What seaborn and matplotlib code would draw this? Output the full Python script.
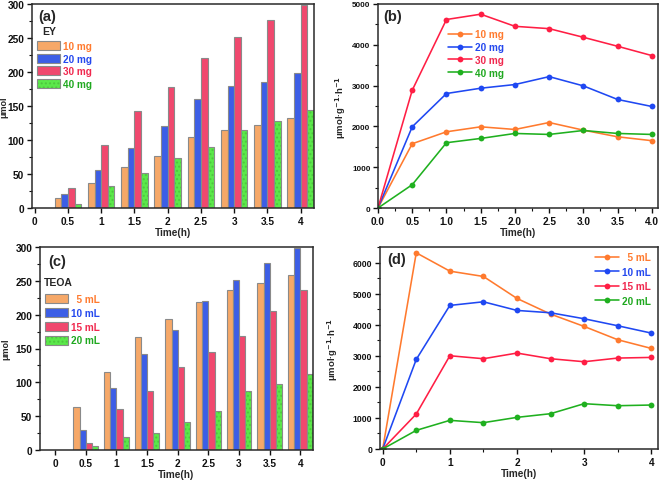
import numpy as np
import pandas as pd
import matplotlib
matplotlib.use("Agg")
import matplotlib.pyplot as plt
import seaborn as sns
from matplotlib.ticker import AutoMinorLocator, MultipleLocator

sns.set_theme(style="ticks")
plt.rcParams['font.family'] = ['Liberation Sans', 'DejaVu Sans']
plt.rcParams['font.weight'] = 'bold'
plt.rcParams['axes.labelweight'] = 'bold'
plt.rcParams['mathtext.default'] = 'bf'

# ---------------- data ----------------
time_cats = ["0", "0.5", "1", "1.5", "2", "2.5", "3", "3.5", "4"]
time_num = [0.0, 0.5, 1.0, 1.5, 2.0, 2.5, 3.0, 3.5, 4.0]

ey_labels = ["10 mg", "20 mg", "30 mg", "40 mg"]
ey_10 = [np.nan, 15, 37, 60, 77, 105, 115, 122, 132]
ey_20 = [np.nan, 20, 56, 88, 121, 161, 180, 186, 199]
ey_30 = [np.nan, 29, 92, 142, 178, 220, 251, 277, 299]
ey_40 = [np.nan, 6, 32, 51, 73, 90, 114, 128, 144]

ey_rate_10 = [0, 1575, 1868, 1990, 1925, 2095, 1908, 1745, 1650]
ey_rate_20 = [0, 1990, 2806, 2936, 3026, 3220, 2993, 2660, 2488]
ey_rate_30 = [0, 2887, 4620, 4750, 4453, 4396, 4184, 3964, 3736]
ey_rate_40 = [0, 571, 1600, 1705, 1827, 1803, 1900, 1827, 1803]

teoa_labels = ["  5 mL", "10 mL", "15 mL", "20 mL"]
teoa_5 = [np.nan, 63, 115, 167, 194, 218, 237, 247, 259]
teoa_10 = [np.nan, 29, 92, 142, 178, 220, 251, 277, 299]
teoa_15 = [np.nan, 11, 60, 87, 123, 145, 169, 205, 236]
teoa_20 = [np.nan, 6, 19, 25, 41, 57, 87, 97, 112]

teoa_rate_5 = [0, 6313, 5723, 5552, 4845, 4341, 3944, 3516, 3237]
teoa_rate_10 = [0, 2883, 4620, 4737, 4459, 4384, 4191, 3966, 3730]
teoa_rate_15 = [0, 1125, 3001, 2905, 3087, 2905, 2808, 2926, 2947]
teoa_rate_20 = [0, 600, 922, 847, 1018, 1136, 1458, 1393, 1415]

bar_colors = ["#F6A868", "#3C5EE6", "#F0486E", "#5BE84A"]
line_colors = ["#FF7A2E", "#1F48F2", "#FF1E44", "#1FB01F"]
text_colors = ["#FF7A2E", "#2448EE", "#F0284E", "#1FA81F"]


def long_df(labels, series, x):
    rows = []
    for lab, vals in zip(labels, series):
        for t, v in zip(x, vals):
            if not (isinstance(v, float) and np.isnan(v)):
                rows.append({"Time": t, "Series": lab, "Value": v})
    return pd.DataFrame(rows)


W, H = 661, 485
fig = plt.figure(figsize=(W / 100, H / 100), dpi=100)


def box(l, t, r, b):
    return [l / W, (H - b) / H, (r - l) / W, (b - t) / H]


axA = fig.add_axes(box(32, 5, 314, 209))
axB = fig.add_axes(box(378, 5, 658, 209))
axC = fig.add_axes(box(40, 248, 313, 451))
axD = fig.add_axes(box(380, 248, 658, 450))

LAB_FS = 7.2
LEG_FS = 7.2


def style_axes(ax, xfs=7.3, yfs=7.3):
    for s in ax.spines.values():
        s.set_color("#2a2a2a")
        s.set_linewidth(1.1)
        s.set_visible(True)
    ax.tick_params(axis="both", which="major", direction="out", length=3.5, width=1,
                   colors="#111111", pad=2)
    ax.tick_params(axis="x", which="major", labelsize=xfs)
    ax.tick_params(axis="y", which="major", labelsize=yfs)
    ax.tick_params(axis="both", which="minor", direction="out", length=2, width=0.8, colors="#111111")
    for lab in ax.get_xticklabels() + ax.get_yticklabels():
        lab.set_fontweight("bold")


def bar_panel(ax, labels, series, title, panel, xlim, title_xy, leg_anchor, lspace,
              panel_xy, ylab_x):
    df = long_df(labels, series, time_cats)
    sns.barplot(data=df, x="Time", y="Value", hue="Series", order=time_cats,
                hue_order=labels, palette=bar_colors, ax=ax, width=0.8,
                edgecolor="#8a8a8a", linewidth=0.8, saturation=1)
    green = matplotlib.colors.to_rgb(bar_colors[3])
    for p in ax.patches:
        if tuple(np.round(p.get_facecolor()[:3], 3)) == tuple(np.round(green, 3)):
            p.set_hatch("....")
            p._hatch_color = (0.25, 0.65, 0.2, 0.45)
    ax.set_ylim(0, 300)
    ax.set_xlim(*xlim)
    ax.yaxis.set_major_locator(MultipleLocator(50))
    ax.yaxis.set_minor_locator(AutoMinorLocator(2))
    ax.set_xlabel("Time(h)", fontsize=LAB_FS, fontweight="bold", labelpad=1)
    ax.set_ylabel("μmol", fontsize=6.5, fontweight="bold")
    ax.yaxis.set_label_coords(ylab_x, 0.5)
    style_axes(ax)
    handles, _ = ax.get_legend_handles_labels()
    leg = ax.legend(handles=handles, labels=labels, loc="upper left",
                    bbox_to_anchor=leg_anchor, frameon=False, fontsize=LEG_FS,
                    handlelength=2.3, handleheight=1.0, handletextpad=0.3,
                    labelspacing=lspace, borderaxespad=0, borderpad=0)
    for t, c in zip(leg.get_texts(), text_colors):
        t.set_color(c)
        t.set_fontweight("bold")
    ax.text(title_xy[0], title_xy[1], title, transform=ax.transAxes, fontsize=7.5,
            fontweight="bold", va="center", ha="left")
    ax.text(panel_xy[0], panel_xy[1], panel, transform=ax.transAxes, fontsize=10.5,
            fontweight="bold", va="top", ha="left")


def line_panel(ax, labels, series, panel, ylim, yticks, xlim, xticks, xfmt, leg_kw, lspace,
               panel_xy, ylab_x, yfs):
    df = long_df(labels, series, time_num)
    sns.lineplot(data=df, x="Time", y="Value", hue="Series", hue_order=labels,
                 palette=line_colors, marker="o", markersize=4.2, markeredgewidth=0,
                 linewidth=1.15, ax=ax)
    ax.set_ylim(*ylim)
    ax.set_xlim(*xlim)
    ax.set_yticks(yticks)
    ax.set_xticks(xticks)
    ax.set_xticklabels([xfmt(v) for v in xticks])
    ax.yaxis.set_minor_locator(AutoMinorLocator(2))
    ax.xaxis.set_minor_locator(AutoMinorLocator(2))
    ax.set_xlabel("Time(h)", fontsize=LAB_FS, fontweight="bold", labelpad=1)
    ax.set_ylabel("μmol·g$^{-1}$·h$^{-1}$", fontsize=6.8, fontweight="bold")
    ax.yaxis.set_label_coords(ylab_x, 0.5)
    style_axes(ax, xfs=7.3, yfs=yfs)
    handles, _ = ax.get_legend_handles_labels()
    leg = ax.legend(handles=handles, labels=labels, frameon=False, fontsize=LEG_FS,
                    handlelength=2.4, handletextpad=0.3, labelspacing=lspace,
                    borderaxespad=0, borderpad=0, **leg_kw)
    for t, c in zip(leg.get_texts(), text_colors):
        t.set_color(c)
        t.set_fontweight("bold")
    ax.text(panel_xy[0], panel_xy[1], panel, transform=ax.transAxes, fontsize=10.5,
            fontweight="bold", va="top", ha="left")


bar_panel(axA, ey_labels, [ey_10, ey_20, ey_30, ey_40], "EY", "(a)", (-0.08, 8.4),
          (0.035, 0.868), (0.018, 0.82), 0.28, (0.021, 0.975), -0.083)
bar_panel(axC, teoa_labels, [teoa_5, teoa_10, teoa_15, teoa_20], "TEOA", "(c)", (-0.49, 8.41),
          (0.015, 0.829), (0.018, 0.768), 0.38, (0.03, 0.965), -0.11)

line_panel(axB, ey_labels, [ey_rate_10, ey_rate_20, ey_rate_30, ey_rate_40], "(b)",
           (0, 5000), [0, 1000, 2000, 3000, 4000, 5000], (0, 4.09),
           [0, 0.5, 1.0, 1.5, 2.0, 2.5, 3.0, 3.5, 4.0], lambda v: f"{v:.1f}",
           dict(loc="upper left", bbox_to_anchor=(0.25, 0.875)), 0.27, (0.018, 0.975), -0.107, 5.8)
line_panel(axD, teoa_labels, [teoa_rate_5, teoa_rate_10, teoa_rate_15, teoa_rate_20], "(d)",
           (0, 6500), [0, 1000, 2000, 3000, 4000, 5000, 6000], (-0.04, 4.1),
           [0, 1, 2, 3, 4], lambda v: f"{v:d}",
           dict(loc="upper right", bbox_to_anchor=(0.975, 0.975)), 0.45, (0.025, 0.975), -0.144, 6.2)

fig.savefig("out.png", dpi=100)
